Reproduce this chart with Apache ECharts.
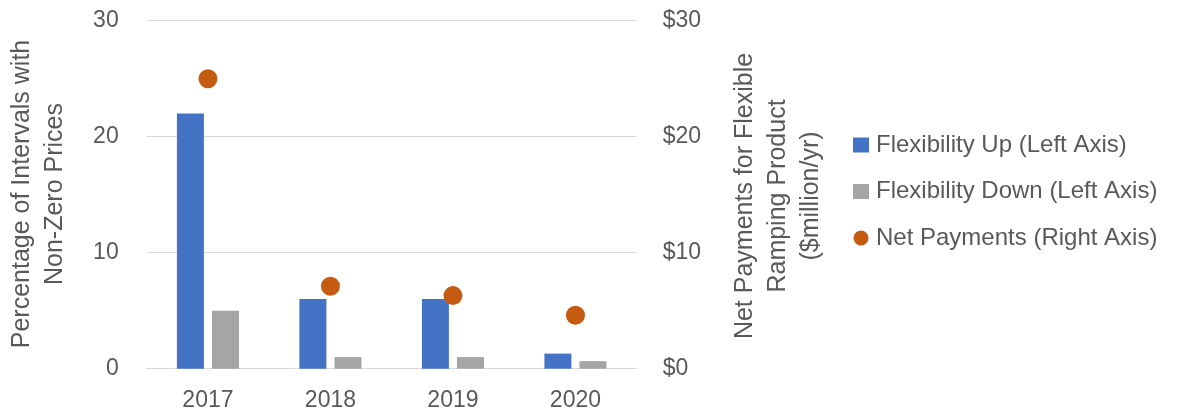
<!DOCTYPE html>
<html>
<head>
<meta charset="utf-8">
<script src="https://cdn.jsdelivr.net/npm/echarts@6/dist/echarts.min.js"></script>
<style>html,body{margin:0;padding:0;background:#fff;}#c{width:1177px;height:417px;}</style>
</head>
<body>
<div id="c"></div>
<script>
const categories = ['2017', '2018', '2019', '2020'];
const flexUp = [22, 6, 6, 1.3];
const flexDown = [5, 1, 1, 0.65];
const netPayments = [25, 7.1, 6.3, 4.6];
const leftTicks = [0, 10, 20, 30];
const rightTicks = ['$0', '$10', '$20', '$30'];

const FONT = '"Liberation Sans", Arial, sans-serif';
const TXT = '#595959';
const chart = echarts.init(document.getElementById('c'), null, {renderer: 'canvas'});
chart.setOption({
  animation: false,
  textStyle: {fontFamily: FONT, color: TXT},
  grid: {left: 146.7, right: 540.3, top: 20.7, bottom: 48.3, containLabel: false},
  legend: {
    orient: 'vertical', left: 853, top: 133, padding: 0,
    itemWidth: 16, itemHeight: 15, itemGap: 22.5,
    textStyle: {fontFamily: FONT, fontSize: 24, color: TXT, lineHeight: 24, padding: [0, 0, 0, 2]},
    data: [
      {name: 'Flexibility Up (Left Axis)', icon: 'rect'},
      {name: 'Flexibility Down (Left Axis)', icon: 'rect'},
      {name: 'Net Payments (Right Axis)', icon: 'circle'}
    ]
  },
  xAxis: {
    type: 'category', data: categories, boundaryGap: true,
    axisLine: {show: true, lineStyle: {color: '#d9d9d9', width: 1}},
    axisTick: {show: false},
    axisLabel: {fontFamily: FONT, fontSize: 23, color: TXT, margin: 20}
  },
  yAxis: [
    {
      type: 'value', min: 0, max: 30, interval: 10,
      axisLine: {show: false}, axisTick: {show: false},
      splitLine: {lineStyle: {color: '#d9d9d9', width: 1}},
      axisLabel: {fontFamily: FONT, fontSize: 23, color: TXT, margin: 28,
        formatter: function (v) { return String(leftTicks[leftTicks.indexOf(v)]); }}
    },
    {
      type: 'value', min: 0, max: 30, interval: 10, position: 'right',
      axisLine: {show: false}, axisTick: {show: false},
      splitLine: {show: false},
      axisLabel: {fontFamily: FONT, fontSize: 23, color: TXT, margin: 26,
        formatter: function (v) { return rightTicks[leftTicks.indexOf(v)]; }}
    }
  ],
  series: [
    {name: 'Flexibility Up (Left Axis)', type: 'bar', data: flexUp, barWidth: 27, barGap: '30%',
      itemStyle: {color: '#4472C4'}},
    {name: 'Flexibility Down (Left Axis)', type: 'bar', data: flexDown, barWidth: 27, barGap: '30%',
      itemStyle: {color: '#A5A5A5'}},
    {name: 'Net Payments (Right Axis)', type: 'scatter', yAxisIndex: 1, data: netPayments,
      symbol: 'circle', symbolSize: 19, itemStyle: {color: '#C55A11', opacity: 1}, z: 5}
  ],
  graphic: [
    {type: 'text', x: 38.3, y: 194, rotation: Math.PI / 2,
      style: {text: 'Percentage of Intervals with\nNon-Zero Prices', fontFamily: FONT, fontSize: 25,
        fill: TXT, align: 'center', verticalAlign: 'middle', lineHeight: 33}},
    {type: 'text', x: 778, y: 196, rotation: Math.PI / 2,
      style: {text: 'Net Payments for Flexible\nRamping Product\n($million/yr)', fontFamily: FONT, fontSize: 25,
        fill: TXT, align: 'center', verticalAlign: 'middle', lineHeight: 33}}
  ]
});
</script>
</body>
</html>
